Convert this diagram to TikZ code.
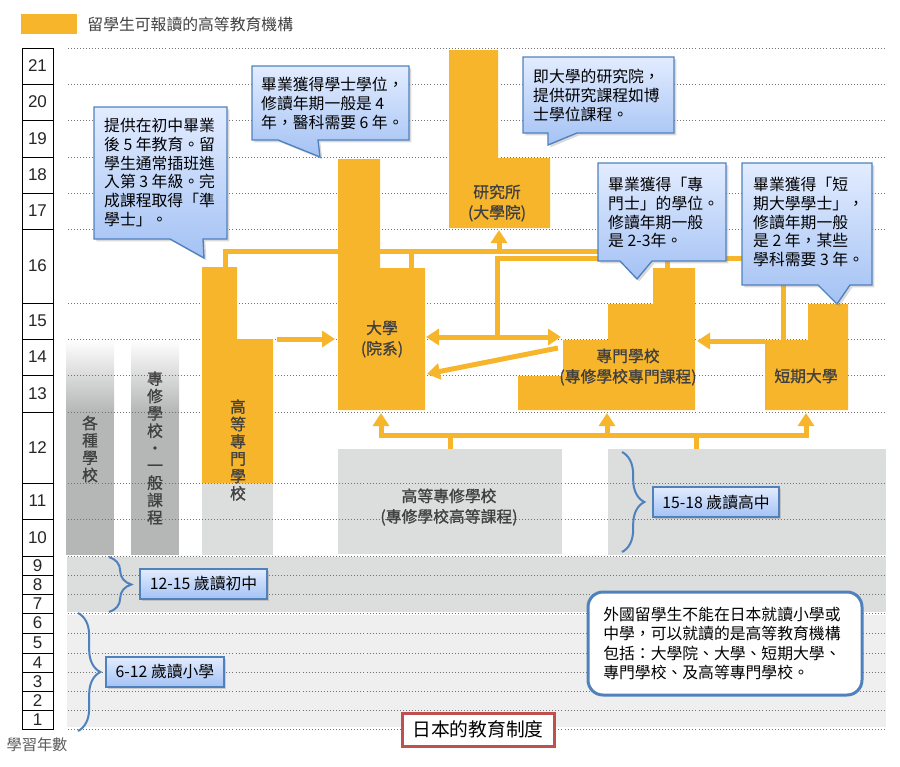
\documentclass[tikz,border=0pt]{standalone}
\usepackage{fontspec}
\setmainfont{Noto Sans CJK TC}
\newfontfamily\numfont{Liberation Sans}
\newfontfamily\lblfont[FakeBold=0.9]{Noto Sans CJK TC}
\usetikzlibrary{arrows.meta,positioning,shadows,decorations.pathreplacing}
\definecolor{jporange}{RGB}{247,181,44}
\definecolor{jpgray}{RGB}{220,221,221}
\definecolor{jpgraylight}{RGB}{239,239,239}
\definecolor{jpgraydark}{RGB}{181,182,182}
\definecolor{jpblue}{RGB}{79,129,189}
\definecolor{jpsky1}{RGB}{226,236,255}
\definecolor{jpsky2}{RGB}{164,194,244}
\definecolor{jpred}{RGB}{192,80,77}

\begin{document}
\begin{tikzpicture}[x=0.3mm, y=-0.3mm,
  >={Triangle[length=3.9mm,width=4.8mm]},
  flow/.style={draw=jporange, line width=1.5mm},
  gridrule/.style={draw=black!55, line width=0.5pt, dash pattern=on 0.6pt off 2pt},
  axisbox/.style={draw=black, line width=0.6pt, fill=white},
  yearnum/.style={font=\numfont\fontsize{14.5}{14.5}\selectfont, text=black!85, inner sep=0pt},
  blklabel/.style={font=\lblfont\fontsize{13.5}{17.5}\selectfont, text=black!75, align=center, inner sep=0pt},
  vlabel/.style={font=\lblfont\fontsize{13.5}{14.8}\selectfont, text=black!75, align=center, inner sep=0pt},
  bubble/.style={draw=jpblue, line width=0.4mm, top color=jpsky1, bottom color=jpsky2,
    drop shadow={shadow xshift=0.7mm, shadow yshift=-0.7mm, opacity=0.3}},
  bubbletext/.style={font=\fontsize{13.5}{16}\selectfont, align=left, anchor=north west, inner sep=0pt},
  agebox/.style={draw=jpblue, line width=0.6mm, top color=jpsky1, bottom color=jpsky2,
    font=\fontsize{13.5}{16}\selectfont, inner sep=0pt, minimum height=9mm,
    drop shadow={shadow xshift=0.7mm, shadow yshift=-0.7mm, opacity=0.3}},
  bracket/.style={draw=jpblue, line width=0.6mm, decorate, decoration={brace, amplitude=6.7mm}}]
\useasboundingbox (0,0) rectangle (900,766);

% Background bands and grey schools
\fill[jpgray] (67,557) rectangle (886,612);
\fill[jpgraylight] (67,615) rectangle (886,727);
\shade[top color=white, bottom color=jpgraydark] (66,339) rectangle (114,412);
\fill[jpgraydark] (66,411) rectangle (114,555);
\shade[top color=white, bottom color=jpgraydark] (131,339) rectangle (179,412);
\fill[jpgraydark] (131,411) rectangle (179,555);
\fill[jpgray] (202,483) rectangle (273,555);
\fill[jpgray] (338,449) rectangle (562,554);
\fill[jpgray] (608,449) rectangle (886,555);

% Grid lines
\foreach \y in {48,84,120,157,193,229,303,339,375,412,483,519,556,575,594,613,633,653,672,691,710,729} {
  \draw[gridrule] (68,\y) -- (886,\y);
}

% Year axis
\foreach \n/\t/\b in {21/48/84, 20/84/120, 19/120/157, 18/157/193, 17/193/229, 16/229/303,
    15/303/339, 14/339/375, 13/375/412, 12/412/483, 11/483/519, 10/519/556, 9/556/575,
    8/575/594, 7/594/613, 6/613/633, 5/633/653, 4/653/672, 3/672/691, 2/691/710, 1/710/729} {
  \draw[axisbox] (22,\t) rectangle (53,\b);
  \node[yearnum] (yr\n) at (37.5,{(\t+\b)/2}) {\n};
}
\node[font=\fontsize{13}{13}\selectfont, text=black!65] (yrcaption) at (37,745) {學習年數};

% Orange blocks
\fill[jporange] (202,267) -- (237,267) -- (237,339) -- (273,339) -- (273,483) -- (202,483) -- cycle;
\fill[jporange] (338,159) -- (380,159) -- (380,268) -- (425,268) -- (425,410) -- (338,410) -- cycle;
\fill[jporange] (449,50) -- (498,50) -- (498,158) -- (550,158) -- (550,228) -- (449,228) -- cycle;
\fill[jporange] (653,268) -- (695,268) -- (695,410) -- (518,410) -- (518,376) -- (563,376)
  -- (563,340) -- (608,340) -- (608,304) -- (653,304) -- cycle;
\fill[jporange] (808,304) -- (848,304) -- (848,410) -- (765,410) -- (765,340) -- (808,340) -- cycle;

% Connector ends
\coordinate (gz-top) at (225,267);
\coordinate (gz-e) at (277,339);
\coordinate (dx-w) at (335,339);
\coordinate (dx-top) at (411,268);
\coordinate (dx-e) at (426,337);
\coordinate (dx-se) at (427,374);
\coordinate (dx-s) at (381,413);
\coordinate (ky-s) at (499,230);
\coordinate (busA) at (499,251);
\coordinate (zm-top) at (667,268);
\coordinate (zm-w) at (561,337);
\coordinate (zm-wd) at (558,348);
\coordinate (zm-e) at (697,341);
\coordinate (zm-s) at (607,413);
\coordinate (dd-top) at (783,340);
\coordinate (dd-w) at (765,341);
\coordinate (dd-s) at (806,413);
\coordinate (jB) at (497,258);
\coordinate (jD) at (497,337);
\coordinate (busC) at (607,435);
\coordinate (kz-n) at (450,449);
\coordinate (hk-n) at (696,449);

% Connections
\draw[flow] (gz-top) -- ++(0,-16) -| (zm-top);
\draw[flow] (dx-top) -- ++(0,-17);
\draw[flow,->] (busA) -- (ky-s);
\draw[flow] (dd-top) |- (jB) -- (jD);
\draw[flow,<->] (dx-e) -- (zm-w);
\draw[flow,->] (zm-wd) -- (dx-se);
\draw[flow,->] (gz-e) -- (dx-w);
\draw[flow,->] (dd-w) -- (zm-e);
\draw[flow,<->] (dx-s) -- ++(0,22) -| (dd-s);
\draw[flow,->] (busC) -- (zm-s);
\draw[flow] (kz-n) -- (kz-n |- busC);
\draw[flow] (hk-n) -- (hk-n |- busC);

% Block labels
\node[blklabel] (daxue) at (382,339) {大學\\(院系)};
\node[blklabel] (kenkyu) at (497,203) {研究所\\(大學院)};
\node[blklabel] (senmon) at (628,367) {專門學校\\(專修學校專門課程)};
\node[blklabel] (tandai) at (806,376) {短期大學};
\node[blklabel] (koutou) at (449,507) {高等專修學校\\(專修學校高等課程)};
\node[vlabel] (kakushu) at (90,449) {各\\種\\學\\校};
\node[vlabel] (ippan) at (155,448) {專\\修\\學\\校\\・\\一\\般\\課\\程};
\node[vlabel] (kosen) at (238,450) {高\\等\\專\\門\\學\\校};

% Callouts
\path[bubble] (94,107) -- (227,107) -- (227,239) -- (203,239) -- (204,258) -- (170,239) -- (94,239) -- cycle;
\node[bubbletext] (c-gz) at (104,118) {提供在初中畢業\\後 5 年教育。留\\學生通常插班進\\入第 3 年級。完\\成課程取得「準\\學士」。};
\path[bubble] (252,66) -- (409,66) -- (409,140) -- (318,140) -- (320,157) -- (278,140) -- (252,140) -- cycle;
\node[bubbletext] (c-dx) at (261,77) {畢業獲得學士學位，\\修讀年期一般是 4\\年，醫科需要 6 年。};
\path[bubble] (523,57) -- (674,57) -- (674,133) -- (577,133) -- (548,145) -- (548,133) -- (523,133) -- cycle;
\node[bubbletext] (c-ky) at (533,69) {即大學的研究院，\\提供研究課程如博\\士學位課程。};
\path[bubble] (598,163) -- (726,163) -- (726,261) -- (652,261) -- (637,279) -- (620,261) -- (598,261) -- cycle;
\node[bubbletext] (c-zm) at (608,177) {畢業獲得「專\\門士」的學位。\\修讀年期一般\\是 2-3年。};
\path[bubble] (742,163) -- (872,163) -- (872,285) -- (850,285) -- (837,304) -- (818,285) -- (742,285) -- cycle;
\node[bubbletext] (c-dd) at (753,177) {畢業獲得「短\\期大學學士」，\\修讀年期一般\\是 2 年，某些\\學科需要 3 年。};

% Age ranges
\draw[bracket] (109,557) -- (109,612);
\draw[bracket] (78,613) -- (78,731);
\draw[bracket] (622,452) -- (622,552);
\node[agebox, minimum width=38.1mm] (age-jh) at (203.5,584) {12-15 歲讀初中};
\node[agebox, minimum width=35.4mm] (age-el) at (165,672) {6-12 歲讀小學};
\node[agebox, minimum width=37.8mm] (age-hs) at (716,502) {15-18 歲讀高中};

% Note and title
\node[draw=jpblue, line width=0.9mm, fill=white, rounded corners=4.5mm, minimum width=82.2mm,
  minimum height=30.9mm, text width=73mm, align=left, inner xsep=4.5mm,
  font=\fontsize{13.5}{16.6}\selectfont] (note) at (725,643.5)
  {外國留學生不能在日本就讀小學或\\中學，可以就讀的是高等教育機構\\包括：大學院、大學、短期大學、\\專門學校、及高等專門學校。};
\node[draw=jpred, line width=0.9mm, fill=white, minimum width=45.6mm, minimum height=9.9mm,
  inner sep=0pt, font=\fontsize{16}{16}\selectfont] (title) at (478,729.5) {日本的教育制度};

% Legend
\node[fill=jporange, minimum width=16.8mm, minimum height=6mm, inner sep=0pt] (legendkey) at (49,24) {};
\node[right=3mm of legendkey, inner sep=0pt, font=\fontsize{13.5}{13.5}\selectfont, text=black!75] (legend) {留學生可報讀的高等教育機構};
\end{tikzpicture}
\end{document}
